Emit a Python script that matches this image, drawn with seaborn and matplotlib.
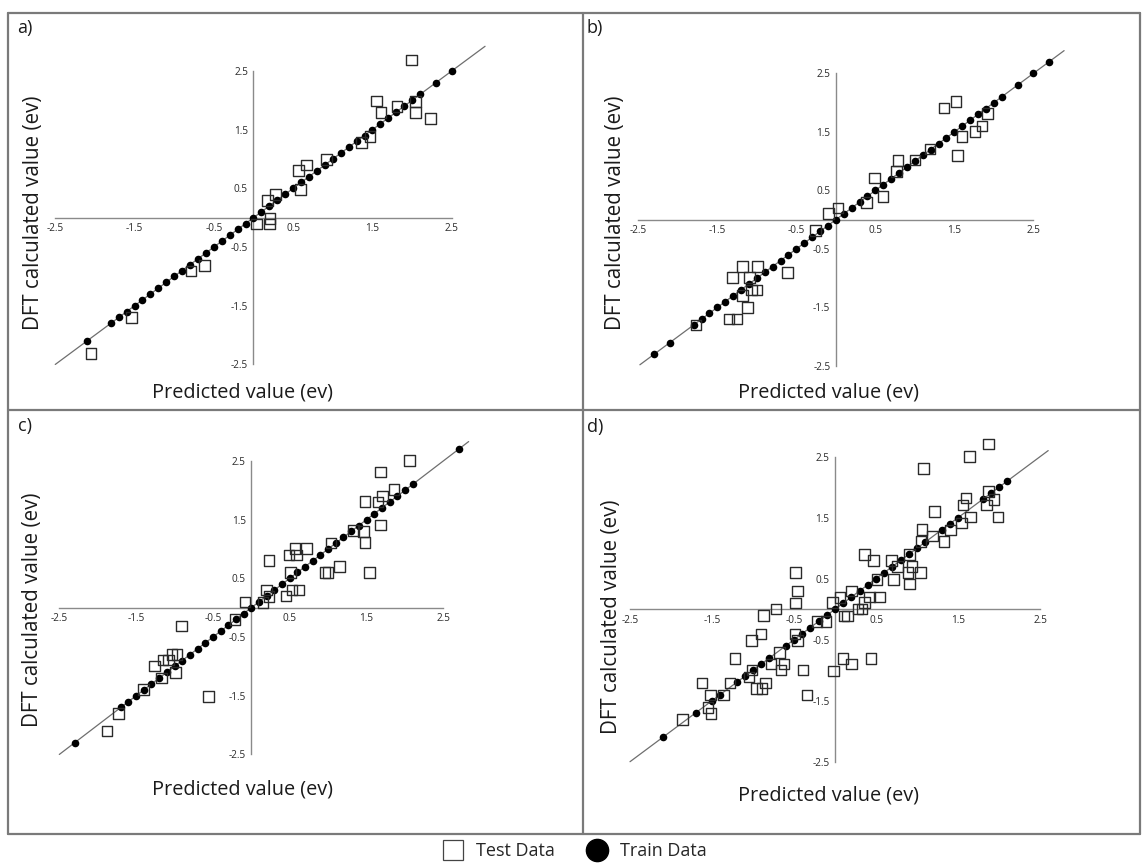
import matplotlib
matplotlib.use("Agg")
import matplotlib.pyplot as plt
import seaborn as sns
import pandas as pd
from matplotlib.lines import Line2D

# ---------------- data ----------------
tick_vals = [-2.5, -1.5, -0.5, 0.5, 1.5, 2.5]
tick_labels = ["-2.5", "-1.5", "-0.5", "0.5", "1.5", "2.5"]
panel_letters = ["a)", "b)", "c)", "d)"]
x_title = "Predicted value (ev)"
y_title = "DFT calculated value (ev)"
legend_labels = ["Test Data", "Train Data"]

# train points (lie on the y = x line)
train_a = [-2.1, -1.8, -1.7, -1.6, -1.5, -1.4, -1.3, -1.2, -1.1, -1.0, -0.9, -0.8, -0.7, -0.6,
           -0.5, -0.4, -0.3, -0.2, -0.1, 0.0, 0.1, 0.2, 0.3, 0.4, 0.5, 0.6, 0.7, 0.8, 0.9, 1.0,
           1.1, 1.2, 1.3, 1.4, 1.5, 1.6, 1.7, 1.8, 1.9, 2.0, 2.1, 2.3, 2.5]
train_b = [-2.3, -2.1, -1.8, -1.7, -1.6, -1.5, -1.4, -1.3, -1.2, -1.1, -1.0, -0.9, -0.8, -0.7,
           -0.6, -0.5, -0.4, -0.3, -0.2, -0.1, 0.0, 0.1, 0.2, 0.3, 0.4, 0.5, 0.6, 0.7, 0.8, 0.9,
           1.0, 1.1, 1.2, 1.3, 1.4, 1.5, 1.6, 1.7, 1.8, 1.9, 2.0, 2.1, 2.3, 2.5, 2.7]
train_c = [-2.3, -1.7, -1.6, -1.5, -1.4, -1.3, -1.2, -1.1, -1.0, -0.9, -0.8, -0.7, -0.6, -0.5,
           -0.4, -0.3, -0.2, -0.1, 0.0, 0.1, 0.2, 0.3, 0.4, 0.5, 0.6, 0.7, 0.8, 0.9, 1.0, 1.1,
           1.2, 1.3, 1.4, 1.5, 1.6, 1.7, 1.8, 1.9, 2.0, 2.1, 2.7]
train_d = [-2.1, -1.7, -1.5, -1.4, -1.2, -1.1, -1.0, -0.9, -0.8, -0.6, -0.5, -0.4, -0.3, -0.2,
           -0.1, 0.0, 0.1, 0.2, 0.3, 0.4, 0.5, 0.6, 0.7, 0.8, 0.9, 1.0, 1.1, 1.3, 1.4, 1.5,
           1.8, 1.9, 2.0, 2.1]

# test points
test_a_x = [1.99, 1.55, 1.61, 1.81, 2.04, 2.04, 2.23, 1.36, 1.47, 0.92, 0.57, 0.67, 0.59,
            0.18, 0.28, 0.04, 0.21, 0.20, -0.79, -0.62, -1.54, -2.05]
test_a_y = [2.69, 1.99, 1.79, 1.89, 1.98, 1.79, 1.69, 1.28, 1.38, 0.99, 0.80, 0.90, 0.48,
            0.29, 0.40, -0.11, -0.01, -0.11, -0.91, -0.81, -1.70, -2.31]

test_b_x = [1.37, 1.52, 1.92, 1.85, 1.76, 1.60, 1.54, 1.19, 1.00, 0.79, 0.77, 0.49, 0.60,
            0.39, 0.03, -0.09, -0.26, -0.61, -0.99, -1.18, -1.31, -1.09, -1.00, -1.07,
            -1.18, -1.12, -1.35, -1.25, -1.77]
test_b_y = [1.91, 2.02, 1.82, 1.60, 1.51, 1.42, 1.10, 1.21, 1.02, 1.01, 0.82, 0.71, 0.40,
            0.29, 0.20, 0.11, -0.18, -0.90, -0.80, -0.80, -0.99, -0.99, -1.20, -1.20,
            -1.30, -1.50, -1.70, -1.70, -1.80]

test_c_x = [2.06, 1.68, 1.86, 1.71, 1.48, 1.65, 1.68, 1.46, 1.48, 1.33, 1.54, 1.15, 0.96,
            1.00, 1.04, 0.72, 0.57, 0.49, 0.59, 0.51, 0.53, 0.62, 0.45, 0.23, 0.20, 0.23,
            0.15, -0.08, -0.21, -0.91, -0.56, -0.97, -1.03, -1.15, -1.08, -1.26, -0.99,
            -1.17, -1.40, -1.73, -1.88]
test_c_y = [2.51, 2.31, 2.01, 1.90, 1.81, 1.80, 1.41, 1.30, 1.11, 1.32, 0.60, 0.70, 0.60,
            0.60, 1.10, 1.01, 1.01, 0.90, 0.90, 0.60, 0.30, 0.30, 0.20, 0.80, 0.30, 0.19,
            0.09, 0.10, -0.20, -0.31, -1.51, -0.80, -0.80, -0.89, -0.89, -0.99, -1.10,
            -1.20, -1.39, -1.80, -2.10]

test_d_x = [1.87, 1.64, 1.08, 1.60, 1.56, 1.87, 1.85, 1.94, 1.99, 1.65, 1.54, 1.21, 1.41,
            1.33, 1.19, 1.06, 1.05, 1.04, 0.94, 0.89, 0.91, 0.91, 0.76, 0.69, 0.71, 0.47,
            0.36, 0.51, 0.54, 0.42, 0.36, 0.28, 0.33, 0.20, 0.06, 0.11, 0.15, -0.03, -0.11,
            -0.22, -0.48, -0.46, -0.48, -0.72, -0.87, -0.90, -1.02, -0.49, -0.46, -0.68,
            -0.62, -0.66, -0.39, -0.78, -1.01, -1.05, -0.85, -0.96, -0.89, -1.22, -1.28,
            -0.34, -0.02, 0.10, 0.20, 0.44, -1.62, -1.36, -1.52, -1.51, -1.55, -1.86]
test_d_y = [2.71, 2.50, 2.31, 1.82, 1.71, 1.93, 1.71, 1.80, 1.51, 1.51, 1.41, 1.60, 1.30,
            1.11, 1.20, 1.31, 1.11, 0.60, 0.70, 0.60, 0.41, 0.90, 0.70, 0.80, 0.49, 0.80,
            0.90, 0.49, 0.20, 0.20, 0.11, 0.00, 0.00, 0.30, 0.19, -0.11, -0.11, 0.11, -0.20,
            -0.20, 0.60, 0.30, 0.10, 0.00, -0.10, -0.41, -0.51, -0.41, -0.51, -0.71,
            -0.90, -1.00, -1.00, -0.90, -1.00, -1.11, -1.21, -1.30, -1.30, -0.81, -1.21,
            -1.41, -1.01, -0.81, -0.90, -0.81, -1.21, -1.41, -1.41, -1.71, -1.61, -1.81]

# extent of the identity line in each panel
line_a = [-2.5, 2.92]
line_b = [-2.48, 2.89]
line_c = [-2.5, 2.83]
line_d = [-2.5, 2.6]

# ---------------- style ----------------
sns.set_style("white")
plt.rcParams["font.family"] = ["Open Sans", "DejaVu Sans"]
plt.rcParams["axes.unicode_minus"] = False

W, H = 1142, 866
fig = plt.figure(figsize=(W / 100, H / 100), dpi=100)

# panel geometry in pixels: origin x, origin y (from top), px per unit x, px per unit y
geo = [
    (253.5, 217.7, 79.3, 58.7),
    (835.8, 219.7, 79.0, 58.5),
    (251.3, 607.7, 76.8, 58.7),
    (835.0, 609.2, 82.0, 61.0),
]
# label positions (pixels)
letter_pos = [(17, 28), (587, 28), (18, 426), (587, 427)]
xlab_pos = [(243, 392), (828, 392), (242, 789), (828, 796)]
ylab_pos = [(34, 213), (615, 213), (33, 610), (612, 617)]

trains = [train_a, train_b, train_c, train_d]
tests = [(test_a_x, test_a_y), (test_b_x, test_b_y), (test_c_x, test_c_y), (test_d_x, test_d_y)]
lines = [line_a, line_b, line_c, line_d]

xlim = (-2.85, 3.1)
ylim = (-2.85, 3.1)
axis_grey = "#8a8a8a"
text_col = "#1a1a1a"

for i in range(4):
    x0, y0, ux, uy = geo[i]
    left = x0 + xlim[0] * ux
    right = x0 + xlim[1] * ux
    top = y0 - ylim[1] * uy
    bottom = y0 - ylim[0] * uy
    ax = fig.add_axes([left / W, 1 - bottom / H, (right - left) / W, (bottom - top) / H])
    ax.set_facecolor("none")
    ax.set_xlim(*xlim)
    ax.set_ylim(*ylim)

    # identity line
    ldf = pd.DataFrame({"x": lines[i], "y": lines[i]})
    sns.lineplot(data=ldf, x="x", y="y", ax=ax, color="#6e6e6e", linewidth=0.9,
                 sort=False, estimator=None)

    # train points
    tr = pd.DataFrame({"x": trains[i], "y": trains[i]})
    sns.scatterplot(data=tr, x="x", y="y", ax=ax, marker="o", s=30, color="black",
                    edgecolor="black", linewidth=0, zorder=3)
    # test points
    te = pd.DataFrame({"x": tests[i][0], "y": tests[i][1]})
    sns.scatterplot(data=te, x="x", y="y", ax=ax, marker="s", s=58, facecolor="white",
                    edgecolor="#2a2a2a", linewidth=1.0, zorder=4, alpha=1)
    for c in ax.collections[-1:]:
        c.set_facecolor("none")

    # centred axes
    for side in ["top", "right"]:
        ax.spines[side].set_visible(False)
    ax.spines["bottom"].set_position(("data", 0))
    ax.spines["left"].set_position(("data", 0))
    ax.spines["bottom"].set_bounds(-2.5, 2.5)
    ax.spines["left"].set_bounds(-2.5, 2.5)
    for side in ["bottom", "left"]:
        ax.spines[side].set_color(axis_grey)
        ax.spines[side].set_linewidth(1.0)
        ax.spines[side].set_zorder(1)
    ax.set_xticks(tick_vals)
    ax.set_xticklabels(tick_labels)
    ax.set_yticks(tick_vals)
    ax.set_yticklabels(tick_labels)
    ax.tick_params(axis="both", direction="in", length=4, width=1.0, color=axis_grey,
                   labelsize=7.2, labelcolor="#2a2a2a", pad=4)
    ax.set_xlabel("")
    ax.set_ylabel("")

    fig.text(letter_pos[i][0] / W, 1 - letter_pos[i][1] / H, panel_letters[i],
             fontsize=13, ha="left", va="center", color=text_col)
    fig.text(xlab_pos[i][0] / W, 1 - xlab_pos[i][1] / H, x_title,
             fontsize=14.3, ha="center", va="center", color=text_col)
    fig.text(ylab_pos[i][0] / W, 1 - ylab_pos[i][1] / H, y_title, rotation=90,
             fontsize=14.8, ha="center", va="center", color=text_col)

# panel frame
frame_col = "#7a7a7a"
def pline(x1, y1, x2, y2):
    fig.add_artist(Line2D([x1 / W, x2 / W], [1 - y1 / H, 1 - y2 / H], color=frame_col,
                          linewidth=1.6, transform=fig.transFigure))
pline(8, 13, 1140, 13)
pline(8, 834, 1140, 834)
pline(8, 13, 8, 834)
pline(1140, 13, 1140, 834)
pline(583, 13, 583, 834)
pline(8, 410, 1140, 410)

# legend
handles = [
    Line2D([], [], linestyle="none", marker="s", markersize=15, markerfacecolor="white",
           markeredgecolor="#444444", markeredgewidth=0.9),
    Line2D([], [], linestyle="none", marker="o", markersize=16, markerfacecolor="black",
           markeredgecolor="black"),
]
fig.legend(handles, legend_labels, loc="center", bbox_to_anchor=(0.5, 1 - 851 / H),
           ncol=2, frameon=False, fontsize=13, handletextpad=0.3, columnspacing=1.3,
           borderpad=0.1)

fig.savefig("out.png", dpi=100, facecolor="white")
